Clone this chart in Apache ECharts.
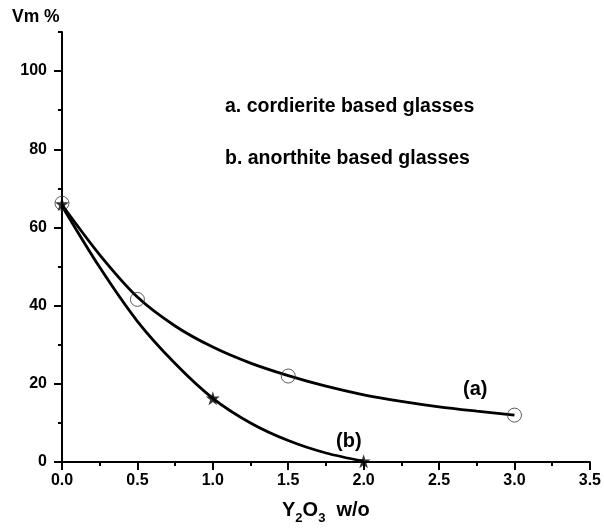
<!DOCTYPE html>
<html>
<head>
<meta charset="utf-8">
<script src="https://cdn.jsdelivr.net/npm/echarts@6/dist/echarts.min.js"></script>
<style>html,body{margin:0;padding:0;background:#fff}#c{width:604px;height:530px}</style>
</head>
<body>
<div id="c"></div>
<script>
// measured points
const pointsA = [[0, 66.2], [0.5, 41.6], [1.5, 22.0], [3.0, 12.0]];
const pointsB = [[0, 66.0], [1.0, 16.3], [2.0, 0.2]];
// fitted curves
const curveA = [[0, 65.8], [0.25, 53.0], [0.5, 42.2], [0.75, 34.8], [1.0, 29.4], [1.25, 25.3], [1.5, 22.1], [1.75, 19.4], [2.0, 17.2], [2.25, 15.5], [2.5, 14.1], [2.75, 13.0], [3.0, 12.0]];
const curveB = [[0, 65.5], [0.25, 49.8], [0.5, 36.0], [0.75, 25.2], [1.0, 16.3], [1.25, 10.0], [1.5, 5.5], [1.75, 2.3], [2.0, 0.2]];
const yTickValues = [0, 20, 40, 60, 80, 100];
const legendLines = ['a. cordierite based glasses', 'b. anorthite based glasses'];

const FONT = 'Liberation Sans, Arial, sans-serif';
const starPath = 'path://M50,0 L61.8,36.2 L100,36.2 L69.1,58.8 L80.9,95.1 L50,72.7 L19.1,95.1 L30.9,58.8 L0,36.2 L38.2,36.2 Z';

const chart = echarts.init(document.getElementById('c'), null, {renderer: 'canvas'});
chart.setOption({
  animation: false,
  backgroundColor: '#fff',
  grid: {left: 62, right: 11, top: 32, bottom: 68},
  xAxis: {
    type: 'value', min: 0, max: 3.5, interval: 0.5,
    axisLine: {lineStyle: {color: '#000', width: 2}},
    axisTick: {show: true, length: 8, lineStyle: {color: '#000', width: 2}},
    minorTick: {show: true, splitNumber: 2, length: 4, lineStyle: {color: '#000', width: 2}},
    splitLine: {show: false},
    axisLabel: {color: '#000', fontFamily: FONT, fontWeight: 'bold', fontSize: 16, margin: 11,
      formatter: v => v.toFixed(1)}
  },
  yAxis: [{
    type: 'value', min: 0, max: 110, interval: 10,
    axisLine: {show: true, lineStyle: {color: '#000', width: 2}},
    axisTick: {show: true, length: 4, lineStyle: {color: '#000', width: 2}},
    splitLine: {show: false},
    axisLabel: {show: false}
  }, {
    type: 'value', min: 0, max: 110, interval: 20, position: 'left',
    axisLine: {show: false},
    axisTick: {show: true, length: 8, customValues: yTickValues, lineStyle: {color: '#000', width: 2}},
    splitLine: {show: false},
    axisLabel: {color: '#000', fontFamily: FONT, fontWeight: 'bold', fontSize: 16, margin: 15,
      customValues: yTickValues}
  }],
  series: [
    {type: 'line', data: curveA, smooth: 0.3, showSymbol: false, symbol: 'none',
      lineStyle: {color: '#000', width: 2.8}, z: 2},
    {type: 'line', data: curveB, smooth: 0.3, showSymbol: false, symbol: 'none',
      lineStyle: {color: '#000', width: 2.8}, z: 2},
    {type: 'scatter', data: pointsA, symbol: 'circle', symbolSize: 14,
      itemStyle: {color: 'rgba(255,255,255,0)', borderColor: '#333', borderWidth: 1}, z: 3},
    {type: 'scatter', data: pointsB, symbol: starPath, symbolSize: 14,
      itemStyle: {color: '#000'}, z: 3}
  ],
  graphic: [
    {type: 'text', left: 12, top: 8, style: {text: 'Vm %', fill: '#000', font: 'bold 17.5px ' + FONT}},
    {type: 'text', left: 225, top: 97, style: {text: legendLines[0], fill: '#000', font: 'bold 19.5px ' + FONT}},
    {type: 'text', left: 225, top: 149, style: {text: legendLines[1], fill: '#000', font: 'bold 19.5px ' + FONT}},
    {type: 'text', left: 463, top: 379, style: {text: '(a)', fill: '#000', font: 'bold 20px ' + FONT}},
    {type: 'text', left: 336, top: 431, style: {text: '(b)', fill: '#000', font: 'bold 20px ' + FONT}},
    {type: 'text', left: 282, top: 500, style: {
      text: 'Y{s|2}O{s|3}  w/o', fill: '#000', font: 'bold 20px ' + FONT,
      rich: {s: {fontSize: 13, fontWeight: 'bold', fontFamily: FONT, padding: [17, 0, 0, 0], fill: '#000'}}
    }}
  ]
});
</script>
</body>
</html>
